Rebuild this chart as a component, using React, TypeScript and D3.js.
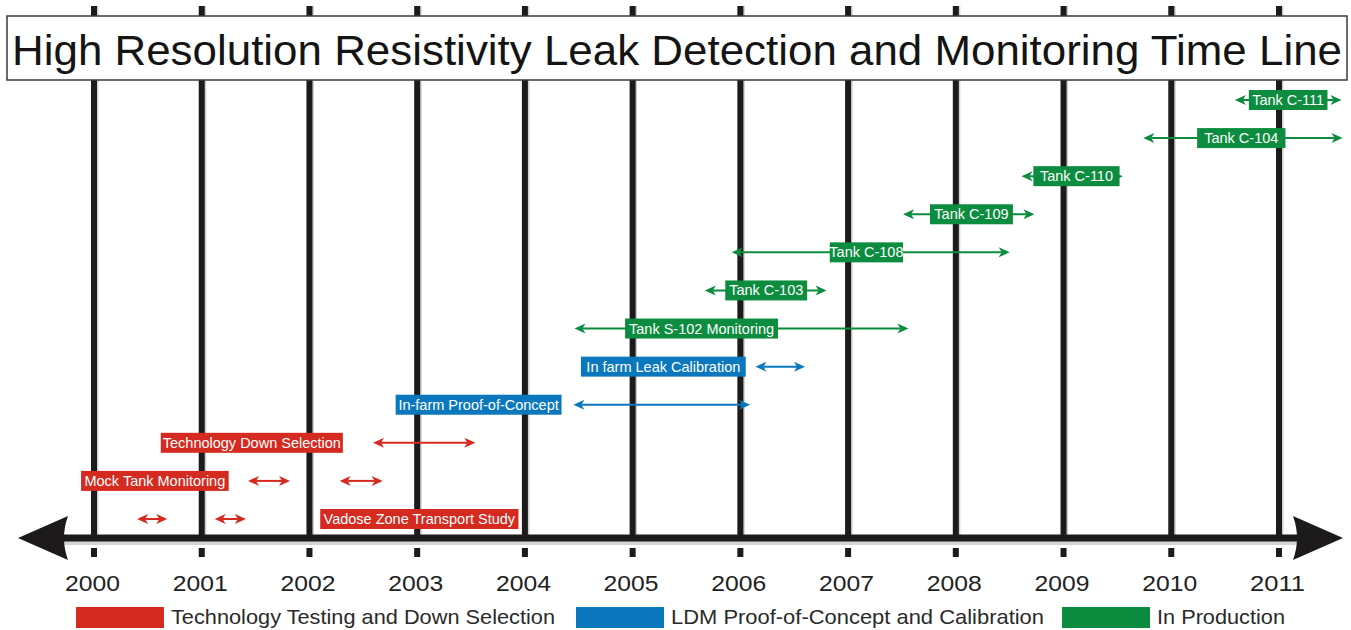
import React from "react";
import * as d3 from "d3";

const title = "High Resolution Resistivity Leak Detection and Monitoring Time Line";
const years = [2000, 2001, 2002, 2003, 2004, 2005, 2006, 2007, 2008, 2009, 2010, 2011];

const phases = ["Technology Testing and Down Selection", "LDM Proof-of-Concept and Calibration", "In Production"];
const phaseColors = ["#D52A20", "#0B78BE", "#0B8C3E"];

// activity labels (one per row, top to bottom)
const activities = [
  "Tank C-111",
  "Tank C-104",
  "Tank C-110",
  "Tank C-109",
  "Tank C-108",
  "Tank C-103",
  "Tank S-102 Monitoring",
  "In farm Leak Calibration",
  "In-farm Proof-of-Concept",
  "Technology Down Selection",
  "Mock Tank Monitoring",
  "Vadose Zone Transport Study",
];
const activityPhase = [2, 2, 2, 2, 2, 2, 2, 1, 1, 0, 0, 0];
const labelStart = [2010.72, 2010.24, 2008.72, 2007.76, 2006.83, 2005.86, 2004.93, 2004.52, 2002.8, 2000.62, 1999.88, 2002.1];
const labelEnd = [2011.45, 2011.06, 2009.52, 2008.53, 2007.51, 2006.62, 2006.35, 2006.05, 2004.34, 2002.31, 2001.25, 2003.94];

// time spans drawn as double-headed arrows
const spanRow = [0, 1, 2, 3, 4, 5, 6, 7, 8, 9, 10, 10, 11, 11];
const spanStart = [2010.59, 2009.74, 2008.61, 2007.51, 2005.92, 2005.67, 2004.46, 2006.14, 2004.45, 2002.59, 2001.43, 2002.28, 2000.4, 2001.12];
const spanEnd = [2011.58, 2011.59, 2009.55, 2008.73, 2008.5, 2006.8, 2007.56, 2006.6, 2006.09, 2003.54, 2001.82, 2002.68, 2000.68, 2001.41];

const W = 1351;
const H = 630;
const FONT = "'Liberation Sans', Arial, Helvetica, sans-serif";

export default function App() {
  const x = d3.scaleLinear().domain([2000, 2011]).range([94, 1279]);
  const y = d3.scalePoint<number>().domain(d3.range(activities.length)).range([100, 519]);
  const axisY = 538;

  const head = (tx: number, ty: number, dir: number) => {
    const L = 11, h = 5, n = 8;
    return `M${tx},${ty} L${tx - dir * L},${ty - h} L${tx - dir * n},${ty} L${tx - dir * L},${ty + h} Z`;
  };

  const legendX = [76, 576, 1062];
  const legendTextLen = [384, 373, 128];

  return (
    <div style={{ position: "absolute", left: 0, top: 0 }}>
      <svg width={W} height={H} style={{ display: "block", background: "#fff" }}>
        {/* vertical year lines */}
        {years.map((yr) => (
          <g key={"v" + yr}>
            <line x1={x(yr) + 3.5} x2={x(yr) + 3.5} y1={6} y2={axisY} stroke="#cfcfcf" strokeWidth={2} />
            <line x1={x(yr)} x2={x(yr)} y1={6} y2={axisY} stroke="#1c1a1a" strokeWidth={6} />
          </g>
        ))}

        {/* title box */}
        <rect x={7} y={16} width={1340} height={64} fill="#fff" stroke="#3a3a3a" strokeWidth={1.5} />
        <text x={677} y={65} textAnchor="middle" fontFamily={FONT} fontSize={42} fill="#141414"
          textLength={1330} lengthAdjust="spacingAndGlyphs">{title}</text>

        {/* spans */}
        {spanRow.map((r, i) => {
          const c = phaseColors[activityPhase[r]];
          const x0 = x(spanStart[i]);
          const x1 = x(spanEnd[i]);
          const yy = y(r)!;
          return (
            <g key={"s" + i}>
              <line x1={x0 + 8} x2={x1 - 8} y1={yy} y2={yy} stroke={c} strokeWidth={2} />
              <path d={head(x0, yy, -1)} fill={c} />
              <path d={head(x1, yy, 1)} fill={c} />
            </g>
          );
        })}

        {/* labels */}
        {activities.map((a, i) => {
          const c = phaseColors[activityPhase[i]];
          const x0 = x(labelStart[i]);
          const x1 = x(labelEnd[i]);
          const yy = y(i)!;
          return (
            <g key={"l" + i}>
              <rect x={x0} y={yy - 10} width={x1 - x0} height={20} fill={c} />
              <text x={(x0 + x1) / 2} y={yy + 5} textAnchor="middle" fontFamily={FONT} fontSize={14.5} fill="#fff">{a}</text>
            </g>
          );
        })}

        {/* main axis */}
        <line x1={60} x2={1300} y1={axisY + 5} y2={axisY + 5} stroke="#d4d4d4" strokeWidth={4} />
        <line x1={60} x2={1300} y1={axisY} y2={axisY} stroke="#1c1a1a" strokeWidth={7} />
        <path d={`M18,${axisY} L68,${axisY - 22} Q60,${axisY} 68,${axisY + 22} Z`} fill="#1c1a1a" />
        <path d={`M1343,${axisY} L1293,${axisY - 22} Q1301,${axisY} 1293,${axisY + 22} Z`} fill="#1c1a1a" />

        {/* ticks and year labels */}
        {years.map((yr) => (
          <g key={"t" + yr}>
            <rect x={x(yr) - 3} y={548} width={6} height={9} fill="#1c1a1a" />
            <text x={x(yr) - 1.5} y={591} textAnchor="middle" fontFamily={FONT} fontSize={22} fill="#222"
              textLength={55} lengthAdjust="spacingAndGlyphs">{yr}</text>
          </g>
        ))}

        {/* legend */}
        {phases.map((p, i) => (
          <g key={"lg" + i}>
            <rect x={legendX[i]} y={607} width={88} height={21} fill={phaseColors[i]} />
            <text x={legendX[i] + 95} y={624} fontFamily={FONT} fontSize={21} fill="#2a2a2a"
              textLength={legendTextLen[i]} lengthAdjust="spacingAndGlyphs">{p}</text>
          </g>
        ))}
      </svg>
    </div>
  );
}
